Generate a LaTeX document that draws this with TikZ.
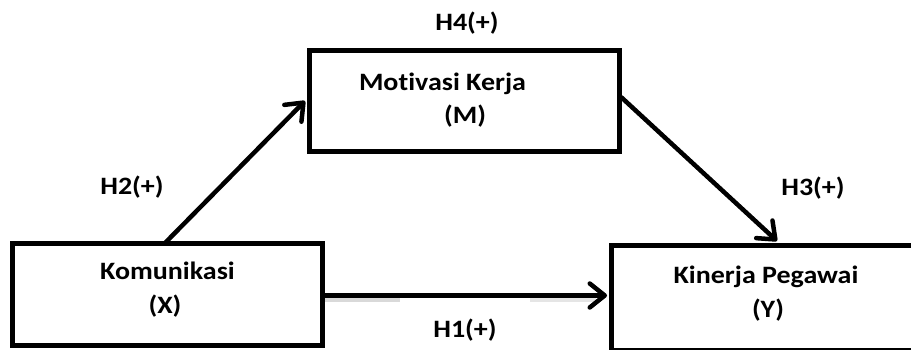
\documentclass[tikz,border=0pt]{standalone}
\usepackage{fontspec}
\usepackage{graphicx}
\setmainfont{Carlito}[Ligatures=NoCommon]
\usetikzlibrary{arrows.meta}
\newcommand{\sx}[1]{\scalebox{1.12}[1]{#1}}
\tikzset{
  box/.style={draw=black, line width=5pt, fill=none},
  txt/.style={anchor=base, inner sep=0pt, font=\fontsize{25}{30}\selectfont\bfseries},
  arr/.style={line width=4.5pt, -{Straight Barb[length=15pt,width=24pt,line width=4.5pt,round]}},
}
\begin{document}
\begin{tikzpicture}[x=1pt,y=-1pt]
\useasboundingbox (0,0) rectangle (911,349);
% shadows under H1 line
\fill[black!15] (325,298) rectangle (400,302);
\fill[black!10] (530,298) rectangle (596,302);
% boxes
\node[box, minimum width=310pt, minimum height=102pt, inner sep=0pt] (X) at (167.5,294) {};
\node[box, minimum width=310pt, minimum height=101pt, inner sep=0pt] (M) at (464,101) {};
\begin{scope}
\clip (0,0) rectangle (911,349);
\node[box, minimum width=320pt, minimum height=105pt, inner sep=0pt] (Y) at (771.5,298) {};
\end{scope}
% texts
\node[txt] (xt1) at (167.5,279) {\sx{Komunikasi}};
\node[txt] (xt2) at (165,313) {\sx{(X)}};
\node[txt] (mt1) at (442.5,90) {\sx{Motivasi Kerja}};
\node[txt] (mt2) at (465,123) {\sx{(M)}};
\node[txt] (yt1) at (766,283) {\sx{Kinerja Pegawai}};
\node[txt] (yt2) at (768,317) {\sx{(Y)}};
\node[txt] (h4) at (467,30) {\sx{H4(+)}};
\node[txt] (h2) at (132,194) {\sx{H2(+)}};
\node[txt] (h3) at (813,195) {\sx{H3(+)}};
\node[txt] (h1) at (465,337) {\sx{H1(+)}};
% arrows
\coordinate (a2s) at (165,243);
\coordinate (a2e) at (305,101);
\coordinate (a3s) at (621,97);
\coordinate (a3e) at (777,241);
\coordinate (a1s) at (324.5,295.5);
\coordinate (a1e) at (607,295.5);
\draw[arr] (a2s) -- (a2e);
\draw[arr] (a3s) -- (a3e);
\draw[arr] (a1s) -- (a1e);
\end{tikzpicture}
\end{document}
